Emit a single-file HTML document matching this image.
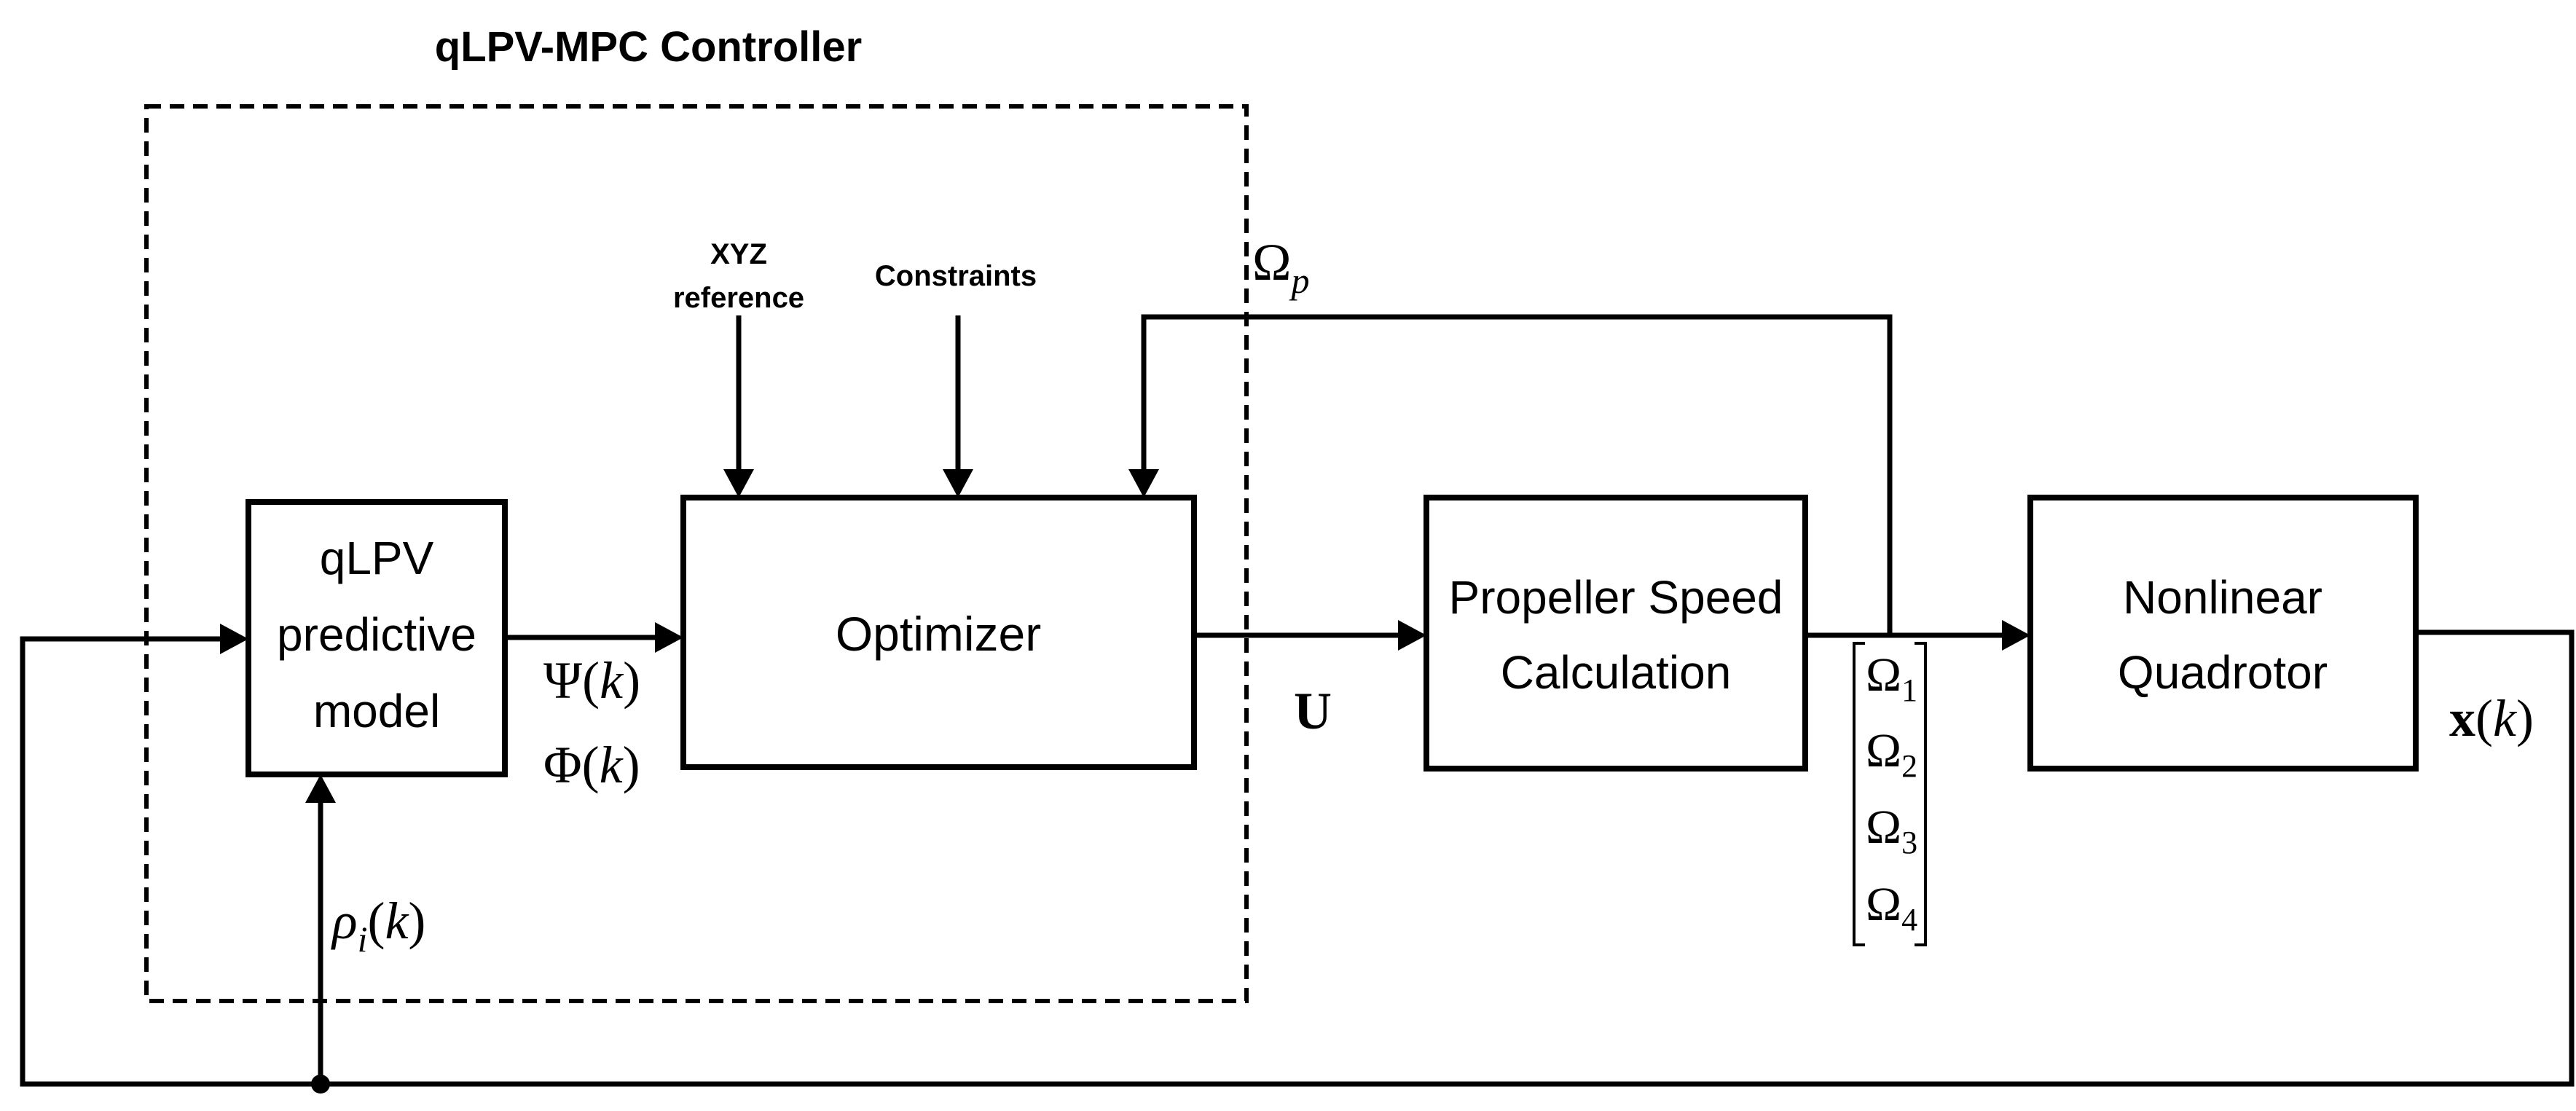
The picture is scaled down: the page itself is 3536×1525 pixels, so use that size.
<!DOCTYPE html>
<html><head><meta charset="utf-8"><style>
html,body{margin:0;padding:0;background:#fff;}
svg{display:block;}
.b{font-family:"Liberation Sans",sans-serif;}
.s{font-family:"Liberation Serif",serif;}
</style></head><body>
<svg width="3536" height="1525" viewBox="0 0 3536 1525" xmlns="http://www.w3.org/2000/svg">
<defs>
<marker id="a" markerWidth="10" markerHeight="10" refX="9" refY="5" orient="auto" markerUnits="userSpaceOnUse" viewBox="0 0 10 10">
</marker>
</defs>
<g fill="none" stroke="#000">
<rect x="201" y="146" width="1510" height="1228" stroke-width="6" stroke-dasharray="20,12"/>
<rect x="341" y="689" width="352" height="374" stroke-width="8"/>
<rect x="938" y="683" width="701" height="370" stroke-width="8"/>
<rect x="1958" y="683" width="520" height="372" stroke-width="8"/>
<rect x="2787" y="683" width="529" height="372" stroke-width="8"/>
<g stroke-width="7">
<!-- feedback loop -->
<polyline points="3316,868 3530,868 3530,1488 31,1488 31,877 305,877"/>
<line x1="440" y1="1488" x2="440" y2="1100"/>
<line x1="693" y1="875" x2="900" y2="875"/>
<line x1="1639" y1="872" x2="1920" y2="872"/>
<line x1="2478" y1="872" x2="2748" y2="872"/>
<polyline points="2594,872 2594,435 1570,435 1570,645"/>
<line x1="1014" y1="433" x2="1014" y2="645"/>
<line x1="1315" y1="433" x2="1315" y2="645"/>
</g>
<g stroke-width="4">
<polyline points="2560,883 2545,883 2545,1297 2560,1297"/>
<polyline points="2628,883 2643,883 2643,1297 2628,1297"/>
</g>
</g>
<g fill="#000">
<polygon points="341,877 302,856 302,898"/>
<polygon points="938,875 899,854 899,896"/>
<polygon points="1958,872 1919,851 1919,893"/>
<polygon points="2787,872 2748,851 2748,893"/>
<polygon points="440,1063 419,1102 461,1102"/>
<polygon points="1014,683 993,644 1035,644"/>
<polygon points="1315,683 1294,644 1336,644"/>
<polygon points="1570,683 1549,644 1591,644"/>
<circle cx="440" cy="1488" r="13"/>
</g>
<g class="b" text-anchor="middle" fill="#000">
<text x="890" y="84" font-size="58" font-weight="bold">qLPV-MPC Controller</text>
<text x="1014" y="362" font-size="40" font-weight="bold">XYZ</text>
<text x="1014" y="422" font-size="40" font-weight="bold">reference</text>
<text x="1312" y="392" font-size="40" font-weight="bold">Constraints</text>
<text x="517" y="788" font-size="64">qLPV</text>
<text x="517" y="893" font-size="64">predictive</text>
<text x="517" y="998" font-size="64">model</text>
<text x="1288" y="893" font-size="66">Optimizer</text>
<text x="2218" y="842" font-size="64">Propeller Speed</text>
<text x="2218" y="945" font-size="64">Calculation</text>
<text x="3051" y="842" font-size="64">Nonlinear</text>
<text x="3051" y="945" font-size="64">Quadrotor</text>
</g>
<g class="s" fill="#000" font-size="72">
<text x="746" y="958">Ψ(<tspan font-style="italic">k</tspan>)</text>
<text x="746" y="1074">Φ(<tspan font-style="italic">k</tspan>)</text>
<text x="456" y="1288"><tspan font-style="italic">ρ</tspan><tspan font-style="italic" font-size="50" dy="18">i</tspan><tspan dy="-18">(</tspan><tspan font-style="italic">k</tspan>)</text>
<text x="1719" y="384">Ω<tspan font-style="italic" font-size="50" dy="18">p</tspan></text>
<text x="1776" y="1000" font-weight="bold">U</text>
<text x="3362" y="1010"><tspan font-weight="bold">x</tspan>(<tspan font-style="italic">k</tspan>)</text>
</g>
<g class="s" fill="#000" font-size="66">
<text x="2561" y="948">Ω<tspan font-size="44" dy="14">1</tspan></text>
<text x="2561" y="1052">Ω<tspan font-size="44" dy="14">2</tspan></text>
<text x="2561" y="1157">Ω<tspan font-size="44" dy="14">3</tspan></text>
<text x="2561" y="1263">Ω<tspan font-size="44" dy="14">4</tspan></text>
</g>
</svg>
</body></html>
